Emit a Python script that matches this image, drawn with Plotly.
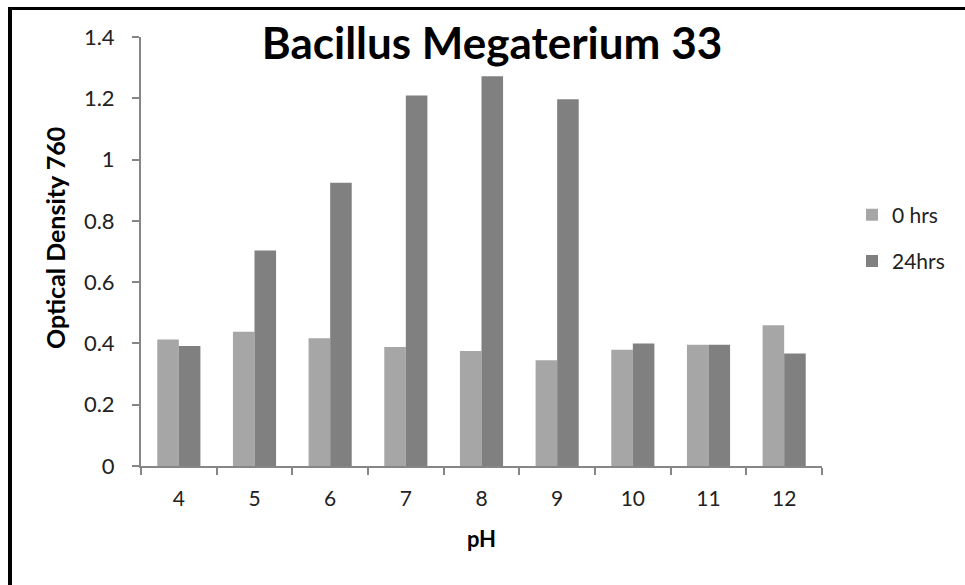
import plotly.graph_objects as go

ph_labels = ["4", "5", "6", "7", "8", "9", "10", "11", "12"]
od_0hrs = [0.413, 0.438, 0.417, 0.388, 0.375, 0.345, 0.379, 0.396, 0.459]
od_24hrs = [0.392, 0.703, 0.924, 1.209, 1.272, 1.197, 0.400, 0.396, 0.367]
series_names = ["0 hrs", "24hrs"]
series_colors = ["#a6a6a6", "#808080"]

FONT = "Lato, 'Open Sans', sans-serif"

fig = go.Figure()
for name, vals, col, grp in zip(series_names, [od_0hrs, od_24hrs], series_colors, ["a", "b"]):
    fig.add_trace(go.Bar(
        x=ph_labels, y=vals, name=name, legendgroup=grp,
        marker=dict(color=col, line=dict(width=0)),
    ))

L, R, T, B = 141, 143, 37, 119
W, H = 965, 585
pw, ph = W - L - R, H - T - B

def px_x(px):
    return (px - L) / pw

def px_y(py):
    return (H - B - py) / ph

fig.update_layout(
    width=W, height=H,
    margin=dict(l=L, r=R, t=T, b=B, pad=0),
    paper_bgcolor="white", plot_bgcolor="white",
    barmode="group", bargap=0.43, bargroupgap=0,
    font=dict(family=FONT, color="#222222", size=22),
    title=dict(text="<b>Bacillus Megaterium 33</b>", x=px_x(492), xref="paper",
               xanchor="center", y=1 - 44 / H, yanchor="middle",
               font=dict(size=44, color="black", family=FONT)),
    xaxis=dict(type="category", showline=True, linecolor="#868686", linewidth=2,
               ticks="outside", tickson="boundaries", ticklen=7, tickcolor="#868686",
               tickwidth=2, showgrid=False, tickfont=dict(size=21, color="#222222"),
               ticklabelstandoff=13,
               title=dict(text="<b>pH</b>", font=dict(size=22, color="black"), standoff=22)),
    yaxis=dict(range=[0, 1.4], dtick=0.2, tick0=0, showline=True, linecolor="#868686",
               linewidth=2, ticks="outside", ticklen=7, tickcolor="#868686", tickwidth=2,
               showgrid=False, zeroline=False, tickfont=dict(size=22, color="#222222"),
               tickformat="~g", ticklabelstandoff=13),
    legend=dict(x=px_x(852), xanchor="left", y=px_y(238), yanchor="middle",
                font=dict(size=21, color="#222222"), tracegroupgap=16,
                itemwidth=30, bgcolor="rgba(0,0,0,0)"),
    showlegend=True,
    annotations=[
        dict(text="<b>Optical Density 760</b>", textangle=-90, xref="paper", yref="paper",
             x=px_x(55), y=px_y(238), xanchor="center", yanchor="middle", showarrow=False,
             font=dict(size=25, color="black", family=FONT)),
    ],
    shapes=[
        dict(type="line", xref="paper", yref="paper", x0=px_x(10), x1=px_x(965),
             y0=px_y(8.5), y1=px_y(8.5), line=dict(color="black", width=3)),
        dict(type="line", xref="paper", yref="paper", x0=px_x(10), x1=px_x(10),
             y0=px_y(7), y1=px_y(585), line=dict(color="black", width=4)),
    ],
)

fig.write_html("out.html")
